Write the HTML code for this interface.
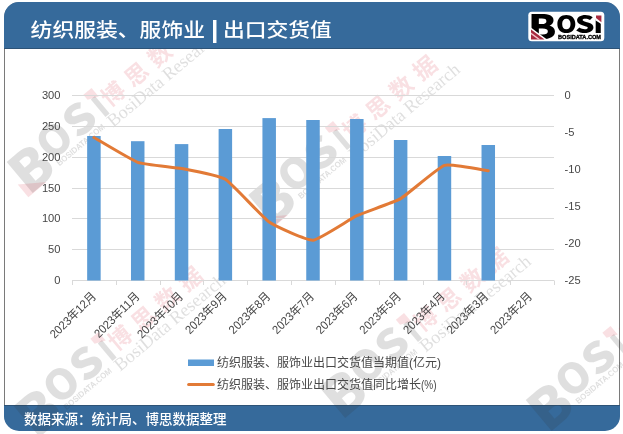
<!DOCTYPE html>
<html><head><meta charset="utf-8">
<style>
html,body{margin:0;padding:0;background:#fff;}
body{width:623px;height:434px;position:relative;overflow:hidden;font-family:"Liberation Sans","Noto Sans CJK SC",sans-serif;}
.card{position:absolute;left:4px;top:2px;width:614px;height:426px;border:1px solid #7a7a7a;border-radius:15px;background:#fff;}
.hdr{position:absolute;left:-1px;top:-1px;width:616px;height:46px;background:#366a9b;border-bottom:1px solid #2d5377;border-radius:15px 15px 0 0;}
.ftr{position:absolute;left:-1px;top:402px;width:616px;height:25px;background:#366a9b;border-top:1px solid #2d5377;border-radius:0 0 15px 15px;}
.title{position:absolute;left:30.6px;top:17.6px;color:#fff;font-size:21.8px;line-height:26px;font-weight:500;white-space:nowrap;font-family:"Liberation Sans","Noto Sans CJK SC",sans-serif;transform:scaleY(0.9);transform-origin:0 13px;}
.title .bar{font-weight:bold;font-size:26.5px;line-height:26px;vertical-align:top;position:relative;top:-1.5px;margin-right:-1.6px;}
.src{position:absolute;left:24px;top:411px;color:#fff;font-size:13.5px;line-height:18px;font-weight:500;white-space:nowrap;font-family:"Liberation Sans","Noto Sans CJK SC",sans-serif;}
svg{position:absolute;left:0;top:0;}
.ax{font-size:12px;fill:#474747;font-family:"Liberation Sans","Noto Sans CJK SC",sans-serif;}
.wl{font-family:"Noto Sans CJK SC",sans-serif;font-weight:900;}
.wt{font-family:"Liberation Sans",sans-serif;font-weight:bold;}
.wc{font-family:"Noto Sans CJK SC",sans-serif;font-weight:700;}
.ws{font-family:"Liberation Serif",serif;}
.lgb text{font-family:"Noto Sans CJK SC",sans-serif;font-weight:900;fill:#000;}
.lg{font-size:12px;fill:#474747;font-family:"Liberation Sans","Noto Sans CJK SC",sans-serif;}
</style></head><body>
<div class="card"><div class="hdr"></div><div class="ftr"></div></div>
<svg width="623" height="434" viewBox="0 0 623 434">
<clipPath id="cw0"><rect x="4" y="49" width="616" height="356" transform="rotate(40) translate(-49.5,-142)"/></clipPath>
<clipPath id="ch0"><rect x="0" y="49" width="623" height="385" transform="rotate(40) translate(-49.5,-142)"/></clipPath>
<g transform="translate(49.5,142) rotate(-40)"><g clip-path="url(#ch0)">
<g transform="translate(5,1.5) scale(1.18)" fill="#303030" fill-opacity="0.155" class="wl">
<text x="-47" y="22.6" font-size="46" textLength="33" lengthAdjust="spacingAndGlyphs">B</text>
<text x="-14" y="13" font-size="35" textLength="28" lengthAdjust="spacingAndGlyphs">O</text>
<text x="15" y="13" font-size="35" textLength="25" lengthAdjust="spacingAndGlyphs">S</text>
<text x="43.5" y="13" font-size="26" textLength="9" lengthAdjust="spacingAndGlyphs">I</text>
</g>
<g clip-path="url(#cw0)"><g transform="translate(5,1.5) scale(1.18)" fill="#d83040" fill-opacity="0.15">
<polygon points="43.5,-13.5 52.5,-13.5 52.5,-4 43.5,-8"/>
<polygon points="-48,9 -28,23 -48,23"/>
</g></g>
<text x="-8" y="25" font-size="8.4" textLength="60" lengthAdjust="spacingAndGlyphs" fill="#303030" fill-opacity="0.155" class="wt">BOSIDATA.COM</text>
<text x="68" y="12.5" font-size="23" letter-spacing="7.6" fill="#d83040" fill-opacity="0.15" class="wc" clip-path="url(#cw0)">博思数据</text>
<text x="58" y="30" font-size="18.2" fill="#303030" fill-opacity="0.155" class="ws">BosiData Research</text>
</g></g>
<clipPath id="cw1"><rect x="4" y="49" width="616" height="356" transform="rotate(40) translate(-291,-175)"/></clipPath>
<clipPath id="ch1"><rect x="0" y="49" width="623" height="385" transform="rotate(40) translate(-291,-175)"/></clipPath>
<g transform="translate(291,175) rotate(-40)"><g clip-path="url(#ch1)">
<g transform="translate(5,1.5) scale(1.18)" fill="#303030" fill-opacity="0.155" class="wl">
<text x="-47" y="22.6" font-size="46" textLength="33" lengthAdjust="spacingAndGlyphs">B</text>
<text x="-14" y="13" font-size="35" textLength="28" lengthAdjust="spacingAndGlyphs">O</text>
<text x="15" y="13" font-size="35" textLength="25" lengthAdjust="spacingAndGlyphs">S</text>
<text x="43.5" y="13" font-size="26" textLength="9" lengthAdjust="spacingAndGlyphs">I</text>
</g>
<g clip-path="url(#cw1)"><g transform="translate(5,1.5) scale(1.18)" fill="#d83040" fill-opacity="0.15">
<polygon points="43.5,-13.5 52.5,-13.5 52.5,-4 43.5,-8"/>
<polygon points="-48,9 -28,23 -48,23"/>
</g></g>
<text x="-8" y="25" font-size="8.4" textLength="60" lengthAdjust="spacingAndGlyphs" fill="#303030" fill-opacity="0.155" class="wt">BOSIDATA.COM</text>
<text x="68" y="12.5" font-size="23" letter-spacing="7.6" fill="#d83040" fill-opacity="0.15" class="wc" clip-path="url(#cw1)">博思数据</text>
<text x="58" y="30" font-size="18.2" fill="#303030" fill-opacity="0.155" class="ws">BosiData Research</text>
</g></g>
<clipPath id="cw2"><rect x="4" y="49" width="616" height="356" transform="rotate(40) translate(-56.5,-386)"/></clipPath>
<clipPath id="ch2"><rect x="0" y="49" width="623" height="385" transform="rotate(40) translate(-56.5,-386)"/></clipPath>
<g transform="translate(56.5,386) rotate(-40)"><g clip-path="url(#ch2)">
<g transform="translate(5,1.5) scale(1.18)" fill="#303030" fill-opacity="0.155" class="wl">
<text x="-47" y="22.6" font-size="46" textLength="33" lengthAdjust="spacingAndGlyphs">B</text>
<text x="-14" y="13" font-size="35" textLength="28" lengthAdjust="spacingAndGlyphs">O</text>
<text x="15" y="13" font-size="35" textLength="25" lengthAdjust="spacingAndGlyphs">S</text>
<text x="43.5" y="13" font-size="26" textLength="9" lengthAdjust="spacingAndGlyphs">I</text>
</g>
<g clip-path="url(#cw2)"><g transform="translate(5,1.5) scale(1.18)" fill="#d83040" fill-opacity="0.15">
<polygon points="43.5,-13.5 52.5,-13.5 52.5,-4 43.5,-8"/>
<polygon points="-48,9 -28,23 -48,23"/>
</g></g>
<text x="-8" y="25" font-size="8.4" textLength="60" lengthAdjust="spacingAndGlyphs" fill="#303030" fill-opacity="0.155" class="wt">BOSIDATA.COM</text>
<text x="68" y="12.5" font-size="23" letter-spacing="7.6" fill="#d83040" fill-opacity="0.15" class="wc" clip-path="url(#cw2)">博思数据</text>
<text x="58" y="30" font-size="18.2" fill="#303030" fill-opacity="0.155" class="ws">BosiData Research</text>
</g></g>
<clipPath id="cw3"><rect x="4" y="49" width="616" height="356" transform="rotate(40) translate(-362,-367)"/></clipPath>
<clipPath id="ch3"><rect x="0" y="49" width="623" height="385" transform="rotate(40) translate(-362,-367)"/></clipPath>
<g transform="translate(362,367) rotate(-40)"><g clip-path="url(#ch3)">
<g transform="translate(5,1.5) scale(1.18)" fill="#303030" fill-opacity="0.155" class="wl">
<text x="-47" y="22.6" font-size="46" textLength="33" lengthAdjust="spacingAndGlyphs">B</text>
<text x="-14" y="13" font-size="35" textLength="28" lengthAdjust="spacingAndGlyphs">O</text>
<text x="15" y="13" font-size="35" textLength="25" lengthAdjust="spacingAndGlyphs">S</text>
<text x="43.5" y="13" font-size="26" textLength="9" lengthAdjust="spacingAndGlyphs">I</text>
</g>
<g clip-path="url(#cw3)"><g transform="translate(5,1.5) scale(1.18)" fill="#d83040" fill-opacity="0.15">
<polygon points="43.5,-13.5 52.5,-13.5 52.5,-4 43.5,-8"/>
<polygon points="-48,9 -28,23 -48,23"/>
</g></g>
<text x="-8" y="25" font-size="8.4" textLength="60" lengthAdjust="spacingAndGlyphs" fill="#303030" fill-opacity="0.155" class="wt">BOSIDATA.COM</text>
<text x="68" y="12.5" font-size="23" letter-spacing="7.6" fill="#d83040" fill-opacity="0.15" class="wc" clip-path="url(#cw3)">博思数据</text>
<text x="58" y="30" font-size="18.2" fill="#303030" fill-opacity="0.155" class="ws">BosiData Research</text>
</g></g>
<clipPath id="cw4"><rect x="4" y="49" width="616" height="356" transform="rotate(40) translate(-568.5,-380)"/></clipPath>
<clipPath id="ch4"><rect x="0" y="49" width="623" height="385" transform="rotate(40) translate(-568.5,-380)"/></clipPath>
<g transform="translate(568.5,380) rotate(-40)"><g clip-path="url(#ch4)">
<g transform="translate(5,1.5) scale(1.18)" fill="#303030" fill-opacity="0.155" class="wl">
<text x="-47" y="22.6" font-size="46" textLength="33" lengthAdjust="spacingAndGlyphs">B</text>
<text x="-14" y="13" font-size="35" textLength="28" lengthAdjust="spacingAndGlyphs">O</text>
<text x="15" y="13" font-size="35" textLength="25" lengthAdjust="spacingAndGlyphs">S</text>
<text x="43.5" y="13" font-size="26" textLength="9" lengthAdjust="spacingAndGlyphs">I</text>
</g>
<g clip-path="url(#cw4)"><g transform="translate(5,1.5) scale(1.18)" fill="#d83040" fill-opacity="0.15">
<polygon points="43.5,-13.5 52.5,-13.5 52.5,-4 43.5,-8"/>
<polygon points="-48,9 -28,23 -48,23"/>
</g></g>
<text x="-8" y="25" font-size="8.4" textLength="60" lengthAdjust="spacingAndGlyphs" fill="#303030" fill-opacity="0.155" class="wt">BOSIDATA.COM</text>
<text x="68" y="12.5" font-size="23" letter-spacing="7.6" fill="#d83040" fill-opacity="0.15" class="wc" clip-path="url(#cw4)">博思数据</text>
<text x="58" y="30" font-size="18.2" fill="#303030" fill-opacity="0.155" class="ws">BosiData Research</text>
</g></g>
<line x1="72.0" y1="95.5" x2="554.0" y2="95.5" stroke="#d9d9d9" stroke-width="1"/>
<line x1="72.0" y1="126.5" x2="554.0" y2="126.5" stroke="#d9d9d9" stroke-width="1"/>
<line x1="72.0" y1="157.5" x2="554.0" y2="157.5" stroke="#d9d9d9" stroke-width="1"/>
<line x1="72.0" y1="188.5" x2="554.0" y2="188.5" stroke="#d9d9d9" stroke-width="1"/>
<line x1="72.0" y1="218.5" x2="554.0" y2="218.5" stroke="#d9d9d9" stroke-width="1"/>
<line x1="72.0" y1="249.5" x2="554.0" y2="249.5" stroke="#d9d9d9" stroke-width="1"/>
<line x1="72.0" y1="280.5" x2="554.0" y2="280.5" stroke="#d9d9d9" stroke-width="1"/>
<line x1="72.5" y1="280.5" x2="72.5" y2="285" stroke="#d9d9d9" stroke-width="1"/>
<line x1="116.5" y1="280.5" x2="116.5" y2="285" stroke="#d9d9d9" stroke-width="1"/>
<line x1="160.5" y1="280.5" x2="160.5" y2="285" stroke="#d9d9d9" stroke-width="1"/>
<line x1="203.5" y1="280.5" x2="203.5" y2="285" stroke="#d9d9d9" stroke-width="1"/>
<line x1="247.5" y1="280.5" x2="247.5" y2="285" stroke="#d9d9d9" stroke-width="1"/>
<line x1="291.5" y1="280.5" x2="291.5" y2="285" stroke="#d9d9d9" stroke-width="1"/>
<line x1="335.5" y1="280.5" x2="335.5" y2="285" stroke="#d9d9d9" stroke-width="1"/>
<line x1="379.5" y1="280.5" x2="379.5" y2="285" stroke="#d9d9d9" stroke-width="1"/>
<line x1="423.5" y1="280.5" x2="423.5" y2="285" stroke="#d9d9d9" stroke-width="1"/>
<line x1="466.5" y1="280.5" x2="466.5" y2="285" stroke="#d9d9d9" stroke-width="1"/>
<line x1="510.5" y1="280.5" x2="510.5" y2="285" stroke="#d9d9d9" stroke-width="1"/>
<line x1="554.5" y1="280.5" x2="554.5" y2="285" stroke="#d9d9d9" stroke-width="1"/>
<rect x="87.16" y="136.00" width="13.5" height="144.50" fill="#5b9bd5"/>
<rect x="130.98" y="141.20" width="13.5" height="139.30" fill="#5b9bd5"/>
<rect x="174.80" y="144.10" width="13.5" height="136.40" fill="#5b9bd5"/>
<rect x="218.61" y="129.00" width="13.5" height="151.50" fill="#5b9bd5"/>
<rect x="262.43" y="118.10" width="13.5" height="162.40" fill="#5b9bd5"/>
<rect x="306.25" y="120.00" width="13.5" height="160.50" fill="#5b9bd5"/>
<rect x="350.07" y="119.00" width="13.5" height="161.50" fill="#5b9bd5"/>
<rect x="393.89" y="140.00" width="13.5" height="140.50" fill="#5b9bd5"/>
<rect x="437.70" y="156.00" width="13.5" height="124.50" fill="#5b9bd5"/>
<rect x="481.52" y="145.00" width="13.5" height="135.50" fill="#5b9bd5"/>
<path d="M93.91,137.50 C96.98,139.24 131.59,160.13 137.73,162.30 C143.86,164.47 175.41,167.31 181.55,168.50 C187.68,169.69 219.23,175.55 225.36,179.30 C231.50,183.05 263.05,217.84 269.18,222.10 C275.32,226.36 306.87,240.65 313.00,240.20 C319.13,239.75 350.68,218.61 356.82,215.70 C362.95,212.79 394.50,202.12 400.64,198.60 C406.77,195.08 438.32,167.35 444.45,165.40 C450.59,163.45 485.21,170.42 488.27,170.80" fill="none" stroke="#e27a36" stroke-width="3" stroke-linecap="round" stroke-linejoin="round"/>
<text transform="translate(60.5,99.0) scale(0.93,0.95)" text-anchor="end" class="ax">300</text>
<text transform="translate(60.5,130.0) scale(0.93,0.95)" text-anchor="end" class="ax">250</text>
<text transform="translate(60.5,161.0) scale(0.93,0.95)" text-anchor="end" class="ax">200</text>
<text transform="translate(60.5,192.0) scale(0.93,0.95)" text-anchor="end" class="ax">150</text>
<text transform="translate(60.5,222.0) scale(0.93,0.95)" text-anchor="end" class="ax">100</text>
<text transform="translate(60.5,253.0) scale(0.93,0.95)" text-anchor="end" class="ax">50</text>
<text transform="translate(60.5,284.0) scale(0.93,0.95)" text-anchor="end" class="ax">0</text>
<text transform="translate(564.5,99.10) scale(0.93,0.95)" class="ax">0</text>
<text transform="translate(564.5,136.00) scale(0.93,0.95)" class="ax">-5</text>
<text transform="translate(564.5,172.90) scale(0.93,0.95)" class="ax">-10</text>
<text transform="translate(564.5,209.80) scale(0.93,0.95)" class="ax">-15</text>
<text transform="translate(564.5,246.70) scale(0.93,0.95)" class="ax">-20</text>
<text transform="translate(564.5,283.60) scale(0.93,0.95)" class="ax">-25</text>
<text transform="translate(96.81,297) rotate(-45) scale(0.93,1)" text-anchor="end" class="ax">2023年12月</text>
<text transform="translate(140.41,297) rotate(-45) scale(0.93,1)" text-anchor="end" class="ax">2023年11月</text>
<text transform="translate(184.01,297) rotate(-45) scale(0.93,1)" text-anchor="end" class="ax">2023年10月</text>
<text transform="translate(227.60,297) rotate(-45) scale(0.93,1)" text-anchor="end" class="ax">2023年9月</text>
<text transform="translate(271.20,297) rotate(-45) scale(0.93,1)" text-anchor="end" class="ax">2023年8月</text>
<text transform="translate(314.80,297) rotate(-45) scale(0.93,1)" text-anchor="end" class="ax">2023年7月</text>
<text transform="translate(358.40,297) rotate(-45) scale(0.93,1)" text-anchor="end" class="ax">2023年6月</text>
<text transform="translate(402.00,297) rotate(-45) scale(0.93,1)" text-anchor="end" class="ax">2023年5月</text>
<text transform="translate(445.59,297) rotate(-45) scale(0.93,1)" text-anchor="end" class="ax">2023年4月</text>
<text transform="translate(489.19,297) rotate(-45) scale(0.93,1)" text-anchor="end" class="ax">2023年3月</text>
<text transform="translate(532.79,297) rotate(-45) scale(0.93,1)" text-anchor="end" class="ax">2023年2月</text>
<rect x="188" y="359.5" width="26" height="6.5" fill="#5b9bd5"/>
<line x1="188.6" y1="384.5" x2="213.3" y2="384.5" stroke="#e27a36" stroke-width="3" stroke-linecap="round"/>
<text x="217" y="366.5" class="lg">纺织服装、服饰业出口交货值当期值(亿元)</text>
<text x="217" y="388.5" class="lg">纺织服装、服饰业出口交货值同比增长</text>
<text x="421" y="388.5" class="lg" textLength="15.6" lengthAdjust="spacingAndGlyphs">(%)</text>
<rect x="528.3" y="11.7" width="76" height="29.5" rx="3.5" fill="#fff"/>
<g class="lgb">
<text x="528" y="38.8" font-size="33.5" textLength="28.5" lengthAdjust="spacingAndGlyphs">B</text>
<text x="556" y="33" font-size="24" textLength="20.7" lengthAdjust="spacingAndGlyphs">O</text>
<text x="575" y="33" font-size="24" textLength="19.6" lengthAdjust="spacingAndGlyphs">S</text>
<text x="593.3" y="33" font-size="18.5" textLength="10" lengthAdjust="spacingAndGlyphs">I</text>
</g>
<polygon points="595.3,18 602,18 602,24.6 595.3,20.2" fill="#fff"/>
<polygon points="596,15.6 601.4,15.6 601.4,22.2 596,17.9" fill="#a82a40"/>
<polygon points="530.5,27.2 547,39.5 530.5,39.5" fill="#fff"/>
<polygon points="531,29.6 544.6,39.6 531,39.6" fill="#a82a40"/>
<polygon points="531,32.6 531,34.2 538.2,39.6 540.4,39.6" fill="#f4c4cc"/>
<text x="558" y="39.4" font-family="Liberation Sans, sans-serif" font-weight="bold" font-size="6.2" fill="#000" stroke="#000" stroke-width="0.35" textLength="43" lengthAdjust="spacingAndGlyphs">BOSIDATA.COM</text>
</svg>
<div class="title">纺织服装、服饰业 <span class="bar">|</span> 出口交货值</div>
<div class="src">数据来源：统计局、博思数据整理</div>
</body></html>
